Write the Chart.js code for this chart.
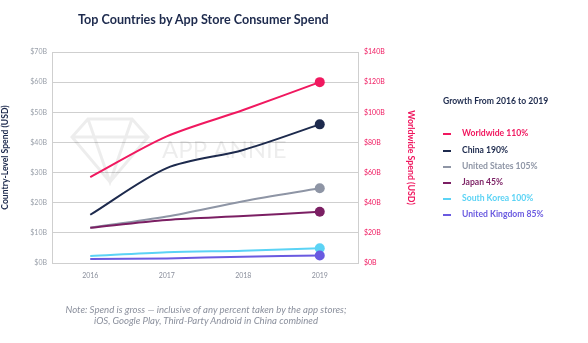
<!DOCTYPE html>
<html><head><meta charset="utf-8">
<script src="https://cdn.jsdelivr.net/npm/chart.js@4.4.1/dist/chart.umd.min.js"></script>
<style>
html,body{margin:0;padding:0;background:#fff;}
#wrap{position:relative;width:588px;height:343px;overflow:hidden;font-family:Lato,"Open Sans",sans-serif;}
#c{position:absolute;left:0;top:0;}
#title{position:absolute;left:78px;top:12px;font-size:12.6px;font-weight:bold;color:#1d2a4d;white-space:nowrap;}
#legend{position:absolute;left:443px;top:95px;font-size:8.6px;font-weight:bold;}
#legend .t{color:#1d2a4d;height:12px;line-height:12px;white-space:nowrap;}
#legend .i{position:absolute;left:0;white-space:nowrap;height:12px;line-height:12px;}
#legend .d{display:inline-block;width:8px;height:1.5px;vertical-align:middle;margin-right:11px;}
#note{position:absolute;left:0;width:412px;top:304px;text-align:center;font-size:9.6px;font-style:italic;color:#8a8f9c;line-height:11px;}
</style></head>
<body><div id="wrap"><canvas id="c" width="588" height="343"></canvas>
<div id="title">Top Countries by App Store Consumer Spend</div>
<div id="legend"></div>
<div id="note">Note: Spend is gross — inclusive of any percent taken by the app stores;<br>iOS, Google Play, Third-Party Android in China combined</div>
</div>
<script>
const years = ['2016','2017','2018','2019'];
const worldwide = [57, 84, 101.5, 120];
const china = [16, 31.5, 37.5, 46];
const unitedStates = [11.7, 15.4, 20.5, 24.8];
const japan = [11.7, 14.3, 15.6, 17];
const southKorea = [2.3, 3.6, 4.1, 4.9];
const unitedKingdom = [1.3, 1.5, 2.1, 2.5];
const seriesNames = ['Worldwide','China','United States','Japan','South Korea','United Kingdom'];
const growth = ['110%','190%','105%','45%','100%','85%'];
const colors = ['#f0185f','#1d2a4d','#8e95a5','#7b1f63','#5bd3f5','#6a5ae0'];
const leftTicks = ['$0B','$10B','$20B','$30B','$40B','$50B','$60B','$70B'];
const rightTicks = ['$0B','$20B','$40B','$60B','$80B','$100B','$120B','$140B'];

const lg = document.getElementById('legend');
lg.innerHTML = '<div class="t">Growth From 2016 to 2019</div>';
const ys = [32,49,65,81,97,113];
seriesNames.forEach((n,i)=>{
  const d=document.createElement('div');d.className='i';d.style.top=ys[i]+'px';d.style.color=colors[i];
  d.innerHTML='<span class="d" style="background:'+colors[i]+'"></span>'+n+' '+growth[i];
  lg.appendChild(d);
});

const allData=[worldwide,china,unitedStates,japan,southKorea,unitedKingdom];
const datasets = allData.map((d,i)=>({
  label: seriesNames[i], data: d, borderColor: colors[i], backgroundColor: colors[i],
  borderWidth: 2, tension: 0.3, yAxisID: i===0?'y1':'y',
  pointRadius: d.map((v,j)=>j===d.length-1?5:0), pointHoverRadius:5, pointBorderWidth:0
})).reverse();

const watermark = {
  id:'wm',
  beforeDatasetsDraw(chart){
    const {ctx, chartArea:a} = chart;
    ctx.save();
    ctx.strokeStyle='rgba(0,0,0,0.07)';ctx.lineWidth=3;
    const cx=a.left+58, cy=a.top+95;
    ctx.beginPath();
    ctx.moveTo(cx-22,cy-28);ctx.lineTo(cx+22,cy-28);ctx.lineTo(cx+38,cy-10);ctx.lineTo(cx,cy+35);ctx.lineTo(cx-38,cy-10);ctx.closePath();
    ctx.moveTo(cx-38,cy-10);ctx.lineTo(cx+38,cy-10);
    ctx.moveTo(cx-22,cy-28);ctx.lineTo(cx,cy+35);ctx.lineTo(cx+22,cy-28);
    ctx.stroke();
    ctx.fillStyle='rgba(0,0,0,0.07)';
    ctx.font='24px Lato, sans-serif';ctx.textBaseline='middle';
    ctx.fillText('APP ANNIE', a.left+110, a.top+98);
    ctx.restore();
  }
};

new Chart(document.getElementById('c'),{
  type:'line',
  data:{labels:years,datasets},
  plugins:[watermark],
  options:{
    responsive:false, animation:false,
    layout:{padding:{top:52,right:172,bottom:0,left:0}},
    plugins:{legend:{display:false},tooltip:{enabled:false}},
    scales:{
      x:{offset:true,grid:{display:false,drawTicks:false},border:{display:false},
        ticks:{color:'#8a8f9c',font:{size:7,family:'Lato'},padding:9},
        afterFit(s){s.height=80;}},
      y:{position:'left',min:0,max:70,
        ticks:{stepSize:10,color:'#9aa0aa',font:{size:7,family:'Lato'},padding:5,
          callback:(v,i)=>leftTicks[i]},
        grid:{color:'#cfcfcf',drawTicks:false},border:{display:true,color:'#cfcfcf'},
        title:{display:true,text:'Country-Level Spend (USD)',color:'#1d2a4d',font:{size:8.6,weight:'bold',family:'Lato'},padding:0},
        afterFit(s){s.width=52;}},
      y1:{position:'right',min:0,max:140,
        ticks:{stepSize:20,color:'#f0185f',font:{size:7,family:'Lato'},padding:6,
          callback:(v,i)=>rightTicks[i]},
        grid:{display:false,drawTicks:false},border:{display:true,color:'#cfcfcf'},
        title:{display:true,text:'Worldwide Spend (USD)',color:'#f0185f',font:{size:8.8,weight:'bold',family:'Lato'},padding:0},
        afterFit(s){s.width=58;}}
    }
  }
});
</script></body></html>
